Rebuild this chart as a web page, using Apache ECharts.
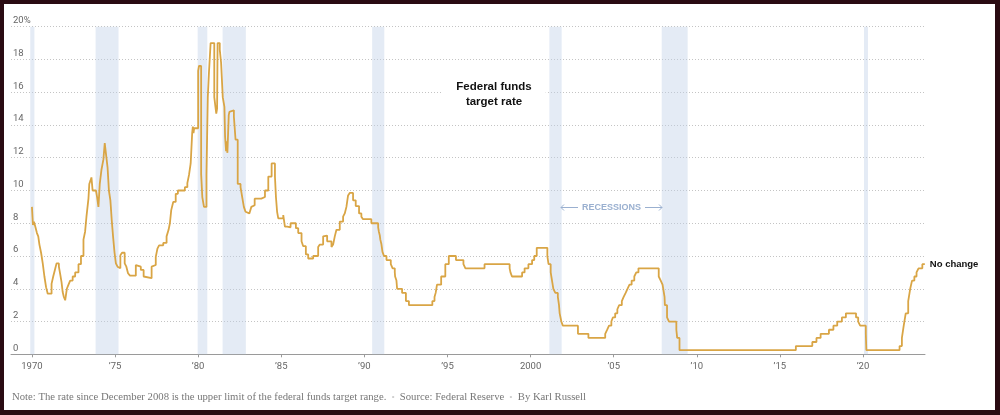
<!DOCTYPE html>
<html>
<head>
<meta charset="utf-8">
<title>Federal funds target rate</title>
<script src="https://cdn.jsdelivr.net/npm/echarts@6/dist/echarts.min.js"></script>
<style>
    html, body { margin:0; padding:0; background:#2a0b12; }
    #panel { position:absolute; left:4px; top:4px; width:991px; height:406px; background:#fff; }
    #chart { position:absolute; left:0; top:0; width:1000px; height:415px; }
</style>
</head>
<body>

<div id="panel"></div>
<div id="chart"></div>

<script>
/* 利率变动：年份（小数）与目标利率（%），按阶梯保持到下一次变动 */
const years = [
    1970.00, 1970.06, 1970.12, 1970.20, 1970.30, 1970.38, 1970.45, 1970.55, 1970.65, 1970.75,
    1970.85, 1970.95, 1971.18, 1971.28, 1971.38, 1971.48, 1971.62, 1971.70, 1971.78, 1971.85,
    1971.92, 1972.00, 1972.10, 1972.20, 1972.30, 1972.45, 1972.60, 1972.80, 1972.95, 1973.10,
    1973.20, 1973.28, 1973.40, 1973.45, 1973.52, 1973.58, 1973.65, 1973.85, 1973.92, 1974.00,
    1974.08, 1974.18, 1974.30, 1974.38, 1974.47, 1974.55, 1974.63, 1974.72, 1974.80, 1974.88,
    1974.97, 1975.05, 1975.15, 1975.22, 1975.32, 1975.42, 1975.58, 1975.68, 1975.78, 1975.90,
    1976.25, 1976.35, 1976.55, 1976.72, 1976.80, 1977.20, 1977.28, 1977.45, 1977.55, 1977.65,
    1977.90, 1978.10, 1978.22, 1978.30, 1978.38, 1978.50, 1978.65, 1978.78, 1979.20, 1979.35,
    1979.45, 1979.55, 1979.64, 1979.68, 1979.72, 1979.76, 1980.00, 1980.05, 1980.18, 1980.25,
    1980.35, 1980.50, 1980.58, 1980.65, 1980.75, 1980.97, 1981.04, 1981.09, 1981.14, 1981.17,
    1981.30, 1981.38, 1981.48, 1981.58, 1981.62, 1981.68, 1981.72, 1981.76, 1981.84, 1981.88,
    1981.95, 1982.15, 1982.25, 1982.38, 1982.55, 1982.65, 1982.75, 1982.85, 1982.95, 1983.08,
    1983.20, 1983.32, 1983.40, 1983.80, 1984.02, 1984.22, 1984.42, 1984.62, 1984.68, 1984.75,
    1984.82, 1985.12, 1985.22, 1985.36, 1985.56, 1985.88, 1986.02, 1986.22, 1986.32, 1986.48,
    1986.62, 1986.92, 1987.22, 1987.32, 1987.52, 1987.62, 1987.76, 1988.02, 1988.12, 1988.22,
    1988.32, 1988.52, 1988.72, 1988.82, 1988.92, 1989.02, 1989.12, 1989.32, 1989.48, 1989.68,
    1989.82, 1989.92, 1990.42, 1990.83, 1990.87, 1990.93, 1990.96, 1991.02, 1991.09, 1991.18,
    1991.33, 1991.59, 1991.70, 1991.83, 1991.85, 1991.93, 1991.97, 1992.27, 1992.50, 1992.68,
    1994.09, 1994.22, 1994.29, 1994.37, 1994.62, 1994.87, 1995.08, 1995.51, 1995.96, 1996.08,
    1997.23, 1998.74, 1998.79, 1998.88, 1999.49, 1999.64, 1999.87, 2000.09, 2000.22, 2000.37,
    2001.01, 2001.08, 2001.21, 2001.29, 2001.37, 2001.49, 2001.64, 2001.71, 2001.75, 2001.85,
    2001.94, 2002.85, 2003.48, 2004.49, 2004.61, 2004.72, 2004.86, 2004.95, 2005.09, 2005.22,
    2005.33, 2005.49, 2005.60, 2005.72, 2005.83, 2005.95, 2006.08, 2006.24, 2006.36, 2006.49,
    2007.71, 2007.83, 2007.94, 2008.06, 2008.08, 2008.21, 2008.33, 2008.77, 2008.82, 2008.96,
    2015.96, 2016.95, 2017.20, 2017.45, 2017.95, 2018.22, 2018.45, 2018.73, 2018.97, 2019.58,
    2019.71, 2019.83, 2020.17, 2020.20, 2022.20, 2022.34, 2022.45, 2022.57, 2022.72, 2022.84,
    2022.95, 2023.09, 2023.22, 2023.34, 2023.57, 2023.72
];

const rates = [
    9.0, 7.9, 8.1, 7.8, 7.4, 7.2, 6.7, 6.2, 5.55, 4.75,
    4.1, 3.7, 4.3, 4.75, 5.15, 5.55, 5.35, 4.9, 4.4, 3.8,
    3.5, 3.3, 4.0, 4.25, 4.5, 4.75, 5.0, 5.5, 6.0, 7.0,
    7.5, 8.4, 9.5, 10.4, 10.6, 10.8, 10.0, 9.9, 9.6, 9.0,
    10.4, 11.25, 11.9, 12.9, 12.1, 11.4, 10.0, 9.4, 8.2, 7.2,
    6.2, 5.55, 5.35, 5.25, 6.05, 6.2, 5.55, 5.35, 4.95, 4.8,
    5.45, 5.35, 5.15, 4.75, 4.65, 5.35, 5.45, 5.95, 6.45, 6.65,
    6.8, 7.2, 7.6, 8.0, 8.8, 9.3, 9.8, 10.0, 10.2, 10.45,
    10.95, 11.65, 13.5, 13.9, 13.5, 13.8, 17.3, 17.6, 11.0, 9.6,
    9.0, 11.0, 15.7, 17.2, 19.0, 15.7, 15.1, 14.7, 15.0, 19.0,
    18.6, 17.8, 15.7, 15.1, 13.3, 12.4, 13.0, 12.3, 14.6, 14.8,
    14.9, 14.5, 13.1, 10.4, 10.2, 9.6, 9.0, 8.7, 8.6, 8.7,
    9.0, 9.1, 9.5, 9.6, 10.0, 10.85, 11.65, 10.85, 9.6, 8.7,
    8.3, 8.5, 7.8, 7.75, 8.0, 7.7, 7.4, 6.9, 6.6, 6.1,
    5.85, 6.0, 6.55, 6.7, 7.2, 7.25, 6.9, 6.55, 6.7, 7.2,
    7.6, 8.1, 8.4, 8.6, 9.0, 9.7, 9.85, 9.4, 9.05, 8.6,
    8.4, 8.25, 8.0, 7.75, 7.5, 7.25, 7.0, 6.75, 6.25, 6.0,
    5.75, 5.5, 5.25, 5.0, 4.75, 4.5, 4.0, 3.75, 3.25, 3.0,
    3.25, 3.5, 3.75, 4.25, 4.75, 5.5, 6.0, 5.75, 5.5, 5.25,
    5.5, 5.25, 5.0, 4.75, 5.0, 5.25, 5.5, 5.75, 6.0, 6.5,
    6.0, 5.5, 5.0, 4.5, 4.0, 3.75, 3.5, 3.0, 2.5, 2.0,
    1.75, 1.25, 1.0, 1.25, 1.5, 1.75, 2.0, 2.25, 2.5, 2.75,
    3.0, 3.25, 3.5, 3.75, 4.0, 4.25, 4.5, 4.75, 5.0, 5.25,
    4.75, 4.5, 4.25, 3.5, 3.0, 2.25, 2.0, 1.5, 1.0, 0.25,
    0.5, 0.75, 1.0, 1.25, 1.5, 1.75, 2.0, 2.25, 2.5, 2.25,
    2.0, 1.75, 1.25, 0.25, 0.5, 1.0, 1.75, 2.5, 3.25, 4.0,
    4.5, 4.75, 5.0, 5.25, 5.5, 5.5
];

/* 经济衰退区间 */
const recessionStarts = [1969.90, 1973.83, 1979.97, 1981.47, 1990.47, 2001.13, 2007.89, 2020.06];
const recessionEnds   = [1970.15, 1975.21, 1980.55, 1982.87, 1991.20, 2001.87, 2009.45, 2020.30];

/* 刻度 */
const xTicks = [1970, 1975, 1980, 1985, 1990, 1995, 2000, 2005, 2010, 2015, 2020];
const yTicks = [0, 2, 4, 6, 8, 10, 12, 14, 16, 18, 20];

const lineColor = "#d9a545";
const sansFont = "Roboto, 'Liberation Sans', sans-serif";

/* 年份标签：1970、2000 全写，其余 ’75 */
function yearLabel(value){

    if(value === 1970 || value === 2000){
        return String(value);
    }

    return "\u2019" + String(value).slice(2);
}

const chart = echarts.init(document.getElementById("chart"));

chart.setOption({

    animation:false,

    grid:{
        left:11,
        right:75,
        top:26.7,
        bottom:60.7
    },

    xAxis:{
        type:"value",
        min:1968.74,
        max:2023.73,
        axisLine:{
            lineStyle:{ color:"#9a9a9a", width:1 }
        },
        axisTick:{
            customValues:xTicks,
            length:3,
            lineStyle:{ color:"#9a9a9a" }
        },
        axisLabel:{
            customValues:xTicks,
            formatter:yearLabel,
            margin:7,
            color:"#666",
            fontFamily:sansFont,
            fontSize:9.5
        },
        splitLine:{ show:false }
    },

    yAxis:{
        type:"value",
        min:yTicks[0],
        max:yTicks[yTicks.length - 1],
        interval:2,
        axisLine:{ show:false },
        axisTick:{ show:false },
        axisLabel:{
            inside:true,
            margin:2,
            verticalAlign:"bottom",
            padding:[0, 0, 1, 0],
            color:"#666",
            fontFamily:sansFont,
            fontSize:9.5,
            formatter:value => value === 20 ? "20%" : String(value)
        },
        splitLine:{
            lineStyle:{ color:"#c4c4c4", type:[1, 2], width:1 }
        }
    },

    series:[
        {
            type:"line",
            step:"end",
            symbol:"none",
            data:years.map((year, i) => [year, rates[i]]),
            lineStyle:{ color:lineColor, width:1.8 },
            endLabel:{
                show:true,
                formatter:"No change",
                distance:5,
                color:"#111",
                fontFamily:"'Liberation Sans', sans-serif",
                fontWeight:"bold",
                fontSize:9.5
            },
            markArea:{
                silent:true,
                itemStyle:{ color:"rgba(190, 208, 230, 0.42)" },
                data:recessionStarts.map((start, i) => [
                    { xAxis:start },
                    { xAxis:recessionEnds[i] }
                ])
            }
        }
    ],

    graphic:[

        /* 标题 */
        {
            type:"text",
            z:100,
            x:494,
            y:78,
            style:{
                text:"Federal funds\ntarget rate",
                align:"center",
                fill:"#111",
                font:"bold 11.5px 'Liberation Sans', sans-serif",
                lineHeight:15,
                backgroundColor:"#fff",
                padding:[1, 14]
            }
        },

        /* 衰退说明 */
        {
            type:"text",
            z:100,
            x:611.5,
            y:207.5,
            style:{
                text:"RECESSIONS",
                align:"center",
                verticalAlign:"middle",
                fill:"#9ab0d0",
                font:"bold 9px 'Liberation Sans', sans-serif"
            }
        },
        {
            type:"polyline",
            z:100,
            shape:{ points:[[578, 207.5], [561, 207.5]] },
            style:{ stroke:"#9ab0d0", lineWidth:1 }
        },
        {
            type:"polyline",
            z:100,
            shape:{ points:[[564, 204.5], [561, 207.5], [564, 210.5]] },
            style:{ stroke:"#9ab0d0", lineWidth:1, fill:null }
        },
        {
            type:"polyline",
            z:100,
            shape:{ points:[[645, 207.5], [662, 207.5]] },
            style:{ stroke:"#9ab0d0", lineWidth:1 }
        },
        {
            type:"polyline",
            z:100,
            shape:{ points:[[659, 204.5], [662, 207.5], [659, 210.5]] },
            style:{ stroke:"#9ab0d0", lineWidth:1, fill:null }
        },

        /* 注释 */
        {
            type:"text",
            x:12,
            y:397,
            style:{
                text:"Note: The rate since December 2008 is the upper limit of the federal funds target range.  {dot|\u2022}  Source: Federal Reserve  {dot|\u2022}  By Karl Russell",
                verticalAlign:"middle",
                fill:"#777",
                font:"10.7px 'Liberation Serif', serif",
                rich:{
                    dot:{ fill:"#ccc", font:"8px 'Liberation Sans', sans-serif" }
                }
            }
        }
    ]
});
</script>

</body>
</html>
